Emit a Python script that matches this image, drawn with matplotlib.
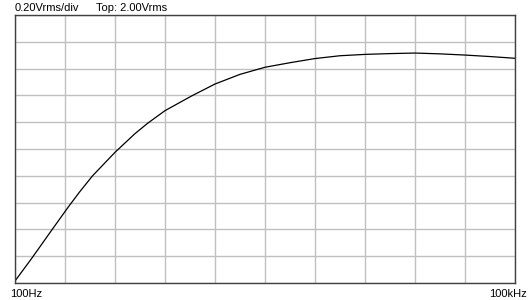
import numpy as np
import matplotlib
matplotlib.use("Agg")
import matplotlib.pyplot as plt

# Frequency response (Hz, Vrms)
freq_hz = [100, 126, 164, 209, 245, 292, 398, 525, 625, 794,
           1148, 1585, 2239, 3162, 4467, 6310, 8913, 12589, 17783,
           25119, 35481, 50119, 70795, 100000]
level_vrms = [0.015, 0.184, 0.385, 0.568, 0.682, 0.80, 0.975, 1.115, 1.192, 1.286,
              1.396, 1.485, 1.557, 1.61, 1.644, 1.675, 1.696, 1.706, 1.712,
              1.716, 1.71, 1.701, 1.69, 1.677]

V_PER_DIV = 0.20
TOP_V = 2.00
F_MIN, F_MAX = 100, 100000

W, H = 530, 300
fig = plt.figure(figsize=(W / 100, H / 100), dpi=100)
fig.patch.set_facecolor("white")

# plot box in pixels: x 15..515, y 15..283
ax = fig.add_axes([15 / W, (H - 283) / H, 500 / W, 268 / H])

ax.plot(freq_hz, level_vrms, color="black", lw=0.9)

ax.set_xscale("log")
ax.set_xlim(F_MIN, F_MAX)
ax.set_ylim(0, TOP_V)

# 10 equal divisions on each axis
xgrid = np.logspace(np.log10(F_MIN), np.log10(F_MAX), 11)
ygrid = np.arange(0, TOP_V + 1e-9, V_PER_DIV)
ax.set_xticks(xgrid)
ax.set_yticks(ygrid)
ax.minorticks_off()
ax.tick_params(length=0, labelbottom=False, labelleft=False)
ax.grid(True, color="#c0c0c0", lw=1)
ax.set_axisbelow(True)

for s in ax.spines.values():
    s.set_color("#404040")
    s.set_linewidth(1)

font = dict(family="Liberation Sans", size=8, color="black")
fig.text(15 / W, 1 - 11 / H, f"{V_PER_DIV:.2f}Vrms/div", ha="left", va="baseline", **font)
fig.text(96 / W, 1 - 11 / H, f"Top: {TOP_V:.2f}Vrms", ha="left", va="baseline", **font)
fig.text(10 / W, 1 - 297 / H, "100Hz", ha="left", va="baseline", **font)
fig.text(527 / W, 1 - 297 / H, "100kHz", ha="right", va="baseline", **font)

fig.savefig("out.png", dpi=100)
